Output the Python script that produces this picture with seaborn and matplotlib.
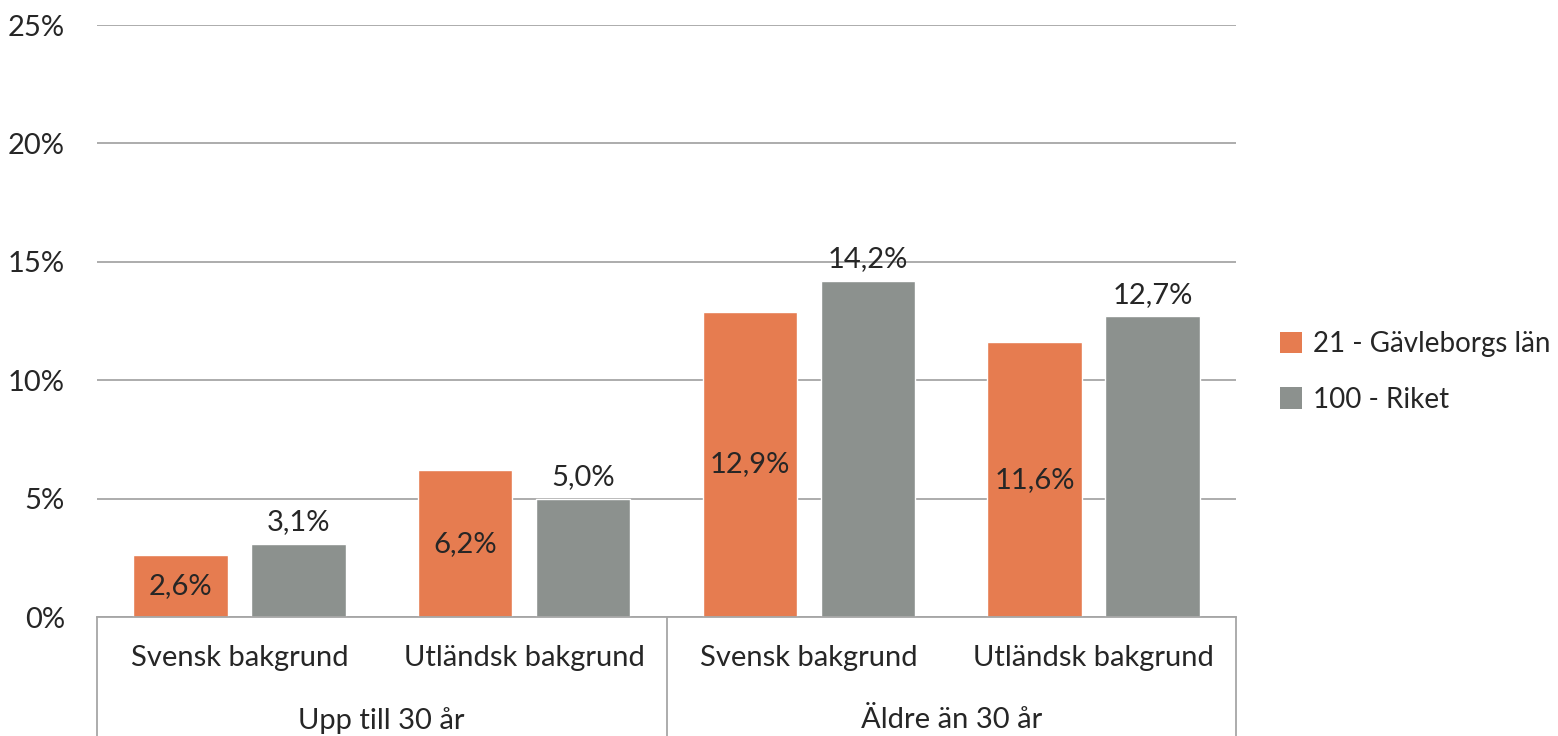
import pandas as pd
import seaborn as sns
import matplotlib.pyplot as plt
import matplotlib.transforms as mtransforms
from matplotlib.patches import Patch

# --- data ---
groups = ["Upp till 30 år", "Äldre än 30 år"]
backgrounds = ["Svensk bakgrund", "Utländsk bakgrund"]
series = ["21 - Gävleborgs län", "100 - Riket"]
gavleborg = [2.6, 6.2, 12.9, 11.6]
riket = [3.1, 5.0, 14.2, 12.7]
y_ticks = [0, 5, 10, 15, 20, 25]

colors = ["#E67C50", "#8C918E"]
FS = 21

sns.set_theme(style="white")
plt.rcParams['font.family'] = ['Lato', 'DejaVu Sans']

cats = [f"{g}|{b}" for g in groups for b in backgrounds]
df = pd.DataFrame({
    "cat": cats * 2,
    "serie": [series[0]] * 4 + [series[1]] * 4,
    "value": gavleborg + riket,
})

fig = plt.figure(figsize=(15.58, 7.36), dpi=100)
ax = fig.add_axes([97 / 1558, 1 - 617 / 736, (1236 - 97) / 1558, (617 - 25) / 736])

sns.barplot(data=df, x="cat", y="value", hue="serie", order=cats, hue_order=series,
            palette=colors, width=0.83, gap=0.2, saturation=1, legend=False, ax=ax)

ax.set_ylim(0, 25)
ax.set_xlim(-0.5, 3.5)
ax.set_yticks(y_ticks)
ax.set_yticklabels([f"{t}%" for t in y_ticks], fontsize=FS)
ax.tick_params(axis="y", length=0, pad=23)
ax.set_xticks([])
ax.set_xlabel("")
ax.set_ylabel("")
ax.grid(axis="y", color="#A6A6A6", linewidth=1.3)
ax.set_axisbelow(True)
for s in ["left", "right", "top"]:
    ax.spines[s].set_visible(False)
ax.spines["bottom"].set_color("#A6A6A6")
ax.spines["bottom"].set_linewidth(1.3)

# value labels: inside (centre) for Gävleborg, above for Riket
ax.bar_label(ax.containers[0], labels=[f"{v:.1f}%".replace(".", ",") for v in gavleborg],
             label_type="center", fontsize=FS)
ax.bar_label(ax.containers[1], labels=[f"{v:.1f}%".replace(".", ",") for v in riket],
             padding=6, fontsize=FS)

# two-level category axis
trans = mtransforms.blended_transform_factory(ax.transData, ax.transAxes)
for i, c in enumerate(cats):
    ax.text(i, -0.069, c.split("|")[1], transform=trans, ha="center", va="center", fontsize=FS)
for j, g in enumerate(groups):
    ax.text(2 * j + 0.5, -0.174, g, transform=trans, ha="center", va="center", fontsize=FS)
for xv in [-0.5, 1.5, 3.5]:
    ax.plot([xv, xv], [0, -0.21], transform=trans, color="#A6A6A6", linewidth=1.3, clip_on=False)

# legend
handles = [Patch(facecolor=c, edgecolor="none") for c in colors]
fig.legend(handles, series, loc="center left", bbox_to_anchor=(1280 / 1558, 1 - 372 / 736),
           frameon=False, fontsize=20, handlelength=0.8, handleheight=0.8,
           handletextpad=0.4, labelspacing=1.05, borderpad=0, borderaxespad=0)

fig.savefig("out.png", dpi=100)
